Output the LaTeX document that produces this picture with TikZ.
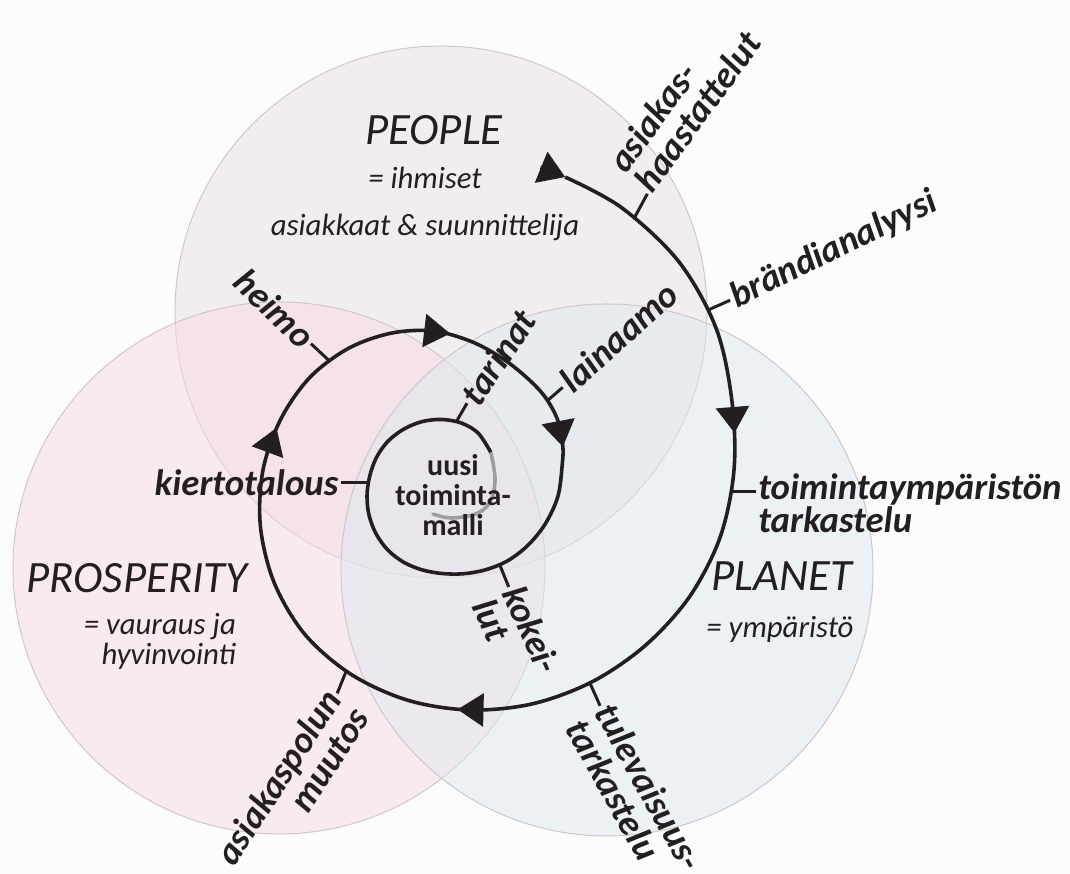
\documentclass[tikz,border=0pt]{standalone}
\usepackage{fontspec}
\setmainfont{Carlito}
\usetikzlibrary{arrows.meta,calc}
\definecolor{PaperWhite}{RGB}{252,252,252}
\definecolor{PeopleTint}{RGB}{234,225,228}
\definecolor{ProsperityTint}{RGB}{248,218,229}
\definecolor{PlanetTint}{RGB}{222,231,240}
\definecolor{RimGray}{RGB}{206,200,203}
\definecolor{InkBlack}{RGB}{35,31,32}
\definecolor{SwirlGray}{RGB}{158,158,160}

\begin{document}
\begin{tikzpicture}[
  x=0.25pt, y=-0.25pt,
  pillar/.style={circle, draw=RimGray, line width=0.25pt, fill opacity=0.5,
    minimum size=133pt, inner sep=0pt},
  spiral/.style={color=InkBlack, line width=0.9pt},
  flowtip/.style={-{Triangle[length=6.5pt,width=8.2pt]}},
  tick/.style={draw=InkBlack, line width=0.75pt},
  tag/.style={font=\fontsize{9.2}{8.3}\selectfont\bfseries\itshape, text=InkBlack, inner sep=0.5pt},
  theme/.style={font=\fontsize{11.2}{12}\selectfont\itshape, text=InkBlack},
  gloss/.style={font=\fontsize{7.7}{7.5}\selectfont\itshape, text=InkBlack},
  coretext/.style={font=\fontsize{7.5}{7.5}\selectfont\bfseries, text=InkBlack, align=center, inner sep=0pt}
]
\fill[PaperWhite] (0,0) rectangle (1070,874);
\useasboundingbox (0,0) rectangle (1070,874);
\clip (0,0) rectangle (1070,874);

% the three pillars
\node[pillar, fill=PeopleTint] (peopleRing) at (441,312) {};
\node[pillar, fill=ProsperityTint] (prosperityRing) at (279,568) {};
\node[pillar, fill=PlanetTint] (planetRing) at (607,570) {};

\node[theme] (people) at (434,130) {PEOPLE};
\node[gloss] (peopleEq) at (425,178) {= ihmiset};
\node[gloss] (peopleWho) at (425,227) {asiakkaat \& suunnittelija};
\node[theme] (prosperity) at (137,578) {PROSPERITY};
\node[gloss, align=right, anchor=east] (prosperityEq) at (250,641) {= vauraus ja\\hyvinvointi};
\node[theme] (planet) at (782,576) {PLANET};
\node[gloss] (planetEq) at (780,629) {= ympäristö};

% points on the spiral that carry a tick
\coordinate (start) at (565.2,177.1);
\coordinate (haast) at (634.5,217.6);
\coordinate (brand) at (708.2,310);
\coordinate (toimi) at (731.5,492);
\coordinate (tulev) at (589.9,683);
\coordinate (polku) at (346.2,671.1);
\coordinate (heimo) at (329.2,360.7);
\coordinate (laina) at (547.6,400.5);
\coordinate (kokei) at (499.7,564.7);
\coordinate (kiert) at (368.1,483);
\coordinate (tarin) at (456.5,421.4);
\coordinate (fade) at (490.7,452.2);

% the swirl where the spiral fades out
\draw[SwirlGray, line width=0.9pt, line cap=round] plot[smooth, tension=0.6]
  coordinates {(fade) (495,478) (491,500) (478,513) (452,518) (433,514)};
\node[coretext] (coreText) at (453,495) {uusi\\toiminta-\\malli};

\draw[spiral] plot[smooth, tension=0.55] coordinates {
  (start) (621.5,207.6) (678.6,261.4) (716,328) (731.8,399.9) (734,470)
  (720.2,537) (689.5,596.8) (645.4,645.4) (592.3,681.7) (532.6,703.8)
  (470,710) (408.3,700.4) (351.75,674.8) (305.2,634.8) (274.3,583)
  (260.4,526.2) (263,470) (280.7,419.3) (309.8,377.5) (348.4,348.4)
  (391,333.2) (432.7,330.9) (470,341) (500.3,357) (524.5,375.6)
  (544.2,395.8) (557.5,419.5) (562.7,445.2) (562.3,463.8) (558,496)
  (545.4,523.7) (527.7,545.5) (507.1,561.1) (484.8,570) (462.8,573.8)
  (442,573.5) (422.2,569.9) (403.75,562.3) (387.9,550.1) (376.2,534)
  (369.1,515.5) (367,496) (369.6,476.6) (376.2,458) (387.6,441.6)
  (403.5,429.3) (422.1,421.6) (442,419.5) (461.5,423.1) (478.25,433.2) (fade)};

% arrowheads along the spiral
\draw[spiral, flowtip] (540.7,167.1) -- (start);
\draw[spiral, flowtip] (732.4,406.5) -- (734.5,433);
\draw[spiral, flowtip] (483,710) -- (457.5,709.4);
\draw[spiral, flowtip] (267.4,452.3) -- (276.5,427.8);
\draw[spiral, flowtip] (423.8,330.5) -- (450.1,333.6);
\draw[spiral, flowtip] (558.1,421.2) -- (562.9,446.8);

% ticks
\coordinate (haast-out) at ($(haast)+(-61.6:27)$);
\coordinate (brand-out) at ($(brand)+(-24:24)$);
\coordinate (toimi-out) at ($(toimi)+(0:24)$);
\coordinate (tulev-out) at ($(tulev)+(66:25)$);
\coordinate (polku-out) at ($(polku)+(112:24)$);
\coordinate (heimo-out) at ($(heimo)+(223:25)$);
\coordinate (laina-out) at ($(laina)+(-41:20)$);
\coordinate (kokei-out) at ($(kokei)+(68:24)$);
\coordinate (tarin-out) at ($(tarin)+(-60:21)$);
\coordinate (kiert-out) at ($(kiert)+(180:27)$);
\foreach \t in {haast,brand,toimi,tulev,polku,heimo,laina,kokei,tarin,kiert}
  \draw[tick] (\t) -- (\t-out);

% labels
\node[tag, rotate=54, anchor=south west, align=left, yshift=-2pt] (haastLbl) at (haast-out) {asiakas-\\haastattelut};
\node[tag, rotate=26, anchor=west] (brandLbl) at (brand-out) {brändianalyysi};
\node[tag, anchor=north west, align=left, yshift=5.25pt] (toimiLbl) at (toimi-out) {toimintaympäristön\\tarkastelu};
\node[tag, rotate=-61, anchor=north west, align=left, yshift=5pt] (tulevLbl) at (tulev-out) {tulevaisuus-\\tarkastelu};
\node[tag, rotate=57, anchor=north east, align=right, yshift=5pt] (polkuLbl) at (polku-out) {asiakaspolun\\muutos};
\node[tag, rotate=-44, anchor=east] (heimoLbl) at (heimo-out) {heimo};
\node[tag, rotate=42, anchor=west] (lainaLbl) at (laina-out) {lainaamo};
\node[tag, rotate=56, anchor=west] (tarinLbl) at (tarin-out) {tarinat};
\node[tag, anchor=east] (kiertLbl) at (kiert-out) {kiertotalous};
\node[tag, rotate=-66, anchor=north west, align=left, yshift=5pt] (kokeiLbl) at (kokei-out) {kokei-\\lut};
\end{tikzpicture}
\end{document}
